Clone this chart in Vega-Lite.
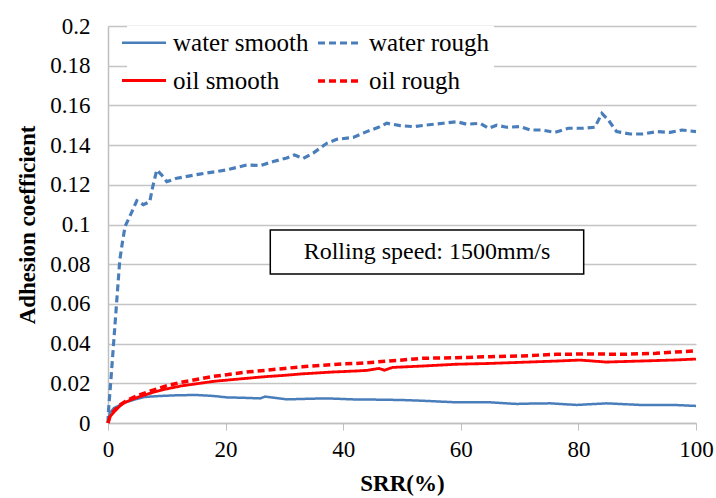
{
  "$schema": "https://vega.github.io/schema/vega-lite/v6.json",
  "width": 588,
  "height": 397,
  "autosize": {"type": "none"},
  "padding": {"left": 108, "top": 26, "right": 20, "bottom": 75},
  "background": "white",
  "config": {
    "font": "Liberation Serif",
    "view": {"stroke": null},
    "text": {"font": "Liberation Serif"},
    "axis": {"labelColor": "black", "titleColor": "black", "labelFont": "Liberation Serif", "titleFont": "Liberation Serif"},
    "legend": {
      "orient": "none", "legendX": 19, "legendY": 0, "columns": 2,
      "symbolType": "M-2,0H2", "symbolSize": 484, "symbolStrokeWidth": 2.5,
      "labelFontSize": 25, "labelFont": "Liberation Serif", "labelColor": "black", "labelOffset": 16,
      "columnPadding": 2, "rowPadding": 12, "padding": 4, "fillColor": "white", "labelLimit": 0
    }
  },
  "datasets": {
    "curves": [
      {"series": "water rough", "srr": 0, "mu": 0},
      {"series": "water rough", "srr": 0.05, "mu": 0.005},
      {"series": "water rough", "srr": 0.5, "mu": 0.022},
      {"series": "water rough", "srr": 0.9, "mu": 0.038},
      {"series": "water rough", "srr": 1.5, "mu": 0.062},
      {"series": "water rough", "srr": 2.0, "mu": 0.082},
      {"series": "water rough", "srr": 2.5, "mu": 0.092},
      {"series": "water rough", "srr": 2.9, "mu": 0.099},
      {"series": "water rough", "srr": 4.0, "mu": 0.106},
      {"series": "water rough", "srr": 4.9, "mu": 0.112},
      {"series": "water rough", "srr": 6.0, "mu": 0.110},
      {"series": "water rough", "srr": 7.1, "mu": 0.1115},
      {"series": "water rough", "srr": 7.6, "mu": 0.119},
      {"series": "water rough", "srr": 8.3, "mu": 0.1275},
      {"series": "water rough", "srr": 9.1, "mu": 0.125},
      {"series": "water rough", "srr": 10.0, "mu": 0.1216},
      {"series": "water rough", "srr": 11.7, "mu": 0.1233},
      {"series": "water rough", "srr": 15.6, "mu": 0.1254},
      {"series": "water rough", "srr": 20.2, "mu": 0.1275},
      {"series": "water rough", "srr": 23.6, "mu": 0.130},
      {"series": "water rough", "srr": 25.9, "mu": 0.1297},
      {"series": "water rough", "srr": 28.1, "mu": 0.1317},
      {"series": "water rough", "srr": 30.4, "mu": 0.1335},
      {"series": "water rough", "srr": 31.7, "mu": 0.135},
      {"series": "water rough", "srr": 33.2, "mu": 0.1333},
      {"series": "water rough", "srr": 34.9, "mu": 0.136},
      {"series": "water rough", "srr": 37.2, "mu": 0.1409},
      {"series": "water rough", "srr": 38.9, "mu": 0.1429},
      {"series": "water rough", "srr": 41.7, "mu": 0.1439},
      {"series": "water rough", "srr": 44.0, "mu": 0.1468},
      {"series": "water rough", "srr": 46.0, "mu": 0.149},
      {"series": "water rough", "srr": 47.4, "mu": 0.151},
      {"series": "water rough", "srr": 49.7, "mu": 0.1498},
      {"series": "water rough", "srr": 51.9, "mu": 0.1493},
      {"series": "water rough", "srr": 54.2, "mu": 0.1501},
      {"series": "water rough", "srr": 57.0, "mu": 0.151},
      {"series": "water rough", "srr": 59.3, "mu": 0.1518},
      {"series": "water rough", "srr": 61.0, "mu": 0.1505},
      {"series": "water rough", "srr": 63.3, "mu": 0.151},
      {"series": "water rough", "srr": 64.7, "mu": 0.1485},
      {"series": "water rough", "srr": 66.1, "mu": 0.150},
      {"series": "water rough", "srr": 67.8, "mu": 0.149},
      {"series": "water rough", "srr": 70.1, "mu": 0.1493},
      {"series": "water rough", "srr": 71.8, "mu": 0.1476},
      {"series": "water rough", "srr": 73.8, "mu": 0.1476},
      {"series": "water rough", "srr": 76.0, "mu": 0.1464},
      {"series": "water rough", "srr": 78.3, "mu": 0.1485},
      {"series": "water rough", "srr": 80.8, "mu": 0.1485},
      {"series": "water rough", "srr": 82.8, "mu": 0.149},
      {"series": "water rough", "srr": 84.0, "mu": 0.156},
      {"series": "water rough", "srr": 85.1, "mu": 0.1526},
      {"series": "water rough", "srr": 86.5, "mu": 0.1468},
      {"series": "water rough", "srr": 88.8, "mu": 0.1456},
      {"series": "water rough", "srr": 91.0, "mu": 0.1456},
      {"series": "water rough", "srr": 93.3, "mu": 0.1468},
      {"series": "water rough", "srr": 95.6, "mu": 0.1464},
      {"series": "water rough", "srr": 97.6, "mu": 0.1476},
      {"series": "water rough", "srr": 100, "mu": 0.1468},

      {"series": "water smooth", "srr": 0, "mu": 0},
      {"series": "water smooth", "srr": 0.3, "mu": 0.005},
      {"series": "water smooth", "srr": 1, "mu": 0.0075},
      {"series": "water smooth", "srr": 2, "mu": 0.009},
      {"series": "water smooth", "srr": 3, "mu": 0.0105},
      {"series": "water smooth", "srr": 4.3, "mu": 0.0116},
      {"series": "water smooth", "srr": 6, "mu": 0.013},
      {"series": "water smooth", "srr": 7.1, "mu": 0.0133},
      {"series": "water smooth", "srr": 8.8, "mu": 0.0136},
      {"series": "water smooth", "srr": 12, "mu": 0.014},
      {"series": "water smooth", "srr": 15.1, "mu": 0.0141},
      {"series": "water smooth", "srr": 18, "mu": 0.0136},
      {"series": "water smooth", "srr": 20.2, "mu": 0.0129},
      {"series": "water smooth", "srr": 23, "mu": 0.0127},
      {"series": "water smooth", "srr": 25.9, "mu": 0.0124},
      {"series": "water smooth", "srr": 26.7, "mu": 0.0133},
      {"series": "water smooth", "srr": 28, "mu": 0.0128},
      {"series": "water smooth", "srr": 30.4, "mu": 0.0119},
      {"series": "water smooth", "srr": 34, "mu": 0.0122},
      {"series": "water smooth", "srr": 37.2, "mu": 0.0124},
      {"series": "water smooth", "srr": 41.7, "mu": 0.0119},
      {"series": "water smooth", "srr": 45, "mu": 0.0118},
      {"series": "water smooth", "srr": 49.7, "mu": 0.0116},
      {"series": "water smooth", "srr": 53.6, "mu": 0.0112},
      {"series": "water smooth", "srr": 59.3, "mu": 0.0104},
      {"series": "water smooth", "srr": 65, "mu": 0.0104},
      {"series": "water smooth", "srr": 69.5, "mu": 0.0096},
      {"series": "water smooth", "srr": 72, "mu": 0.0098},
      {"series": "water smooth", "srr": 75.2, "mu": 0.0099},
      {"series": "water smooth", "srr": 79.7, "mu": 0.0091},
      {"series": "water smooth", "srr": 84.8, "mu": 0.0099},
      {"series": "water smooth", "srr": 90.5, "mu": 0.0091},
      {"series": "water smooth", "srr": 96.2, "mu": 0.0091},
      {"series": "water smooth", "srr": 100, "mu": 0.0086},

      {"series": "oil rough", "srr": 0, "mu": 0},
      {"series": "oil rough", "srr": 0.3, "mu": 0.003},
      {"series": "oil rough", "srr": 1, "mu": 0.006},
      {"series": "oil rough", "srr": 2, "mu": 0.009},
      {"series": "oil rough", "srr": 3, "mu": 0.011},
      {"series": "oil rough", "srr": 5, "mu": 0.0138},
      {"series": "oil rough", "srr": 7.1, "mu": 0.016},
      {"series": "oil rough", "srr": 10, "mu": 0.0188},
      {"series": "oil rough", "srr": 12.5, "mu": 0.0205},
      {"series": "oil rough", "srr": 15.6, "mu": 0.0222},
      {"series": "oil rough", "srr": 18, "mu": 0.0235},
      {"series": "oil rough", "srr": 21.3, "mu": 0.0248},
      {"series": "oil rough", "srr": 24, "mu": 0.0258},
      {"series": "oil rough", "srr": 27, "mu": 0.0266},
      {"series": "oil rough", "srr": 30, "mu": 0.0275},
      {"series": "oil rough", "srr": 33, "mu": 0.0283},
      {"series": "oil rough", "srr": 36, "mu": 0.029},
      {"series": "oil rough", "srr": 40, "mu": 0.0298},
      {"series": "oil rough", "srr": 42.2, "mu": 0.030},
      {"series": "oil rough", "srr": 47.8, "mu": 0.0312},
      {"series": "oil rough", "srr": 53.5, "mu": 0.0326},
      {"series": "oil rough", "srr": 59.2, "mu": 0.0329},
      {"series": "oil rough", "srr": 64.9, "mu": 0.0334},
      {"series": "oil rough", "srr": 70.5, "mu": 0.0338},
      {"series": "oil rough", "srr": 76.2, "mu": 0.0346},
      {"series": "oil rough", "srr": 81.8, "mu": 0.0348},
      {"series": "oil rough", "srr": 87.5, "mu": 0.0346},
      {"series": "oil rough", "srr": 93.2, "mu": 0.0351},
      {"series": "oil rough", "srr": 100, "mu": 0.0364},

      {"series": "oil smooth", "srr": 0, "mu": 0},
      {"series": "oil smooth", "srr": 0.3, "mu": 0.003},
      {"series": "oil smooth", "srr": 1, "mu": 0.0055},
      {"series": "oil smooth", "srr": 2, "mu": 0.0085},
      {"series": "oil smooth", "srr": 2.6, "mu": 0.0099},
      {"series": "oil smooth", "srr": 4, "mu": 0.0118},
      {"series": "oil smooth", "srr": 5.4, "mu": 0.0133},
      {"series": "oil smooth", "srr": 7.5, "mu": 0.0153},
      {"series": "oil smooth", "srr": 10, "mu": 0.0172},
      {"series": "oil smooth", "srr": 12.5, "mu": 0.0187},
      {"series": "oil smooth", "srr": 15.6, "mu": 0.0200},
      {"series": "oil smooth", "srr": 18, "mu": 0.021},
      {"series": "oil smooth", "srr": 21.3, "mu": 0.0219},
      {"series": "oil smooth", "srr": 24.3, "mu": 0.0227},
      {"series": "oil smooth", "srr": 27, "mu": 0.0234},
      {"series": "oil smooth", "srr": 30, "mu": 0.024},
      {"series": "oil smooth", "srr": 32.7, "mu": 0.0247},
      {"series": "oil smooth", "srr": 35.5, "mu": 0.0252},
      {"series": "oil smooth", "srr": 38.3, "mu": 0.0257},
      {"series": "oil smooth", "srr": 42.2, "mu": 0.0262},
      {"series": "oil smooth", "srr": 44, "mu": 0.0265},
      {"series": "oil smooth", "srr": 46.1, "mu": 0.0275},
      {"series": "oil smooth", "srr": 47, "mu": 0.0266},
      {"series": "oil smooth", "srr": 48.4, "mu": 0.028},
      {"series": "oil smooth", "srr": 53.5, "mu": 0.0287},
      {"series": "oil smooth", "srr": 59.2, "mu": 0.0296},
      {"series": "oil smooth", "srr": 64.9, "mu": 0.030},
      {"series": "oil smooth", "srr": 70.5, "mu": 0.0306},
      {"series": "oil smooth", "srr": 76.2, "mu": 0.0312},
      {"series": "oil smooth", "srr": 80.2, "mu": 0.0317},
      {"series": "oil smooth", "srr": 82.5, "mu": 0.0312},
      {"series": "oil smooth", "srr": 84.7, "mu": 0.0307},
      {"series": "oil smooth", "srr": 90.4, "mu": 0.0312},
      {"series": "oil smooth", "srr": 96, "mu": 0.0317},
      {"series": "oil smooth", "srr": 100, "mu": 0.0322}
    ],
    "note": [
      {"label": "Rolling speed: 1500mm/s", "left": 27.6, "right": 80.9, "bottom": 0.0751, "top": 0.0972, "cx": 54.25, "cy": 0.0861}
    ]
  },
  "layer": [
    {
      "data": {"name": "curves"},
      "mark": {"type": "line", "interpolate": "linear"},
      "encoding": {
        "x": {
          "field": "srr", "type": "quantitative",
          "scale": {"domain": [0, 100], "nice": false},
          "axis": {
            "title": "SRR(%)", "values": [0, 20, 40, 60, 80, 100], "tickCount": 20, "grid": false,
            "tickSize": 7, "tickColor": "#bfbfbf", "domainColor": "#bfbfbf", "domainWidth": 1.5,
            "labelFont": "Liberation Serif", "titleFont": "Liberation Serif",
            "labelFontSize": 23, "labelPadding": 8, "labelFlush": false, "labelOverlap": false,
            "titleFontSize": 23, "titleFontWeight": "bold", "titlePadding": 11
          }
        },
        "y": {
          "field": "mu", "type": "quantitative",
          "scale": {"domain": [0, 0.2], "nice": false},
          "axis": {
            "title": "Adhesion coefficient",
            "values": [0, 0.02, 0.04, 0.06, 0.08, 0.1, 0.12, 0.14, 0.16, 0.18, 0.2], "tickCount": 20,
            "format": "~g", "ticks": false, "grid": true, "gridColor": "#c4c4c4", "gridWidth": 1.5,
            "domainColor": "#bfbfbf", "domainWidth": 1.5,
            "labelFont": "Liberation Serif", "titleFont": "Liberation Serif",
            "labelFontSize": 23, "labelPadding": 18, "labelFlush": false, "labelOverlap": false,
            "titleFontSize": 23, "titleFontWeight": "bold", "titlePadding": 10
          }
        },
        "color": {
          "field": "series", "type": "nominal",
          "scale": {"domain": ["water smooth", "oil smooth", "water rough", "oil rough"], "range": ["#4a7ebb", "#ff0000", "#4a7ebb", "#ff0000"]},
          "legend": {"title": null}
        },
        "strokeDash": {
          "field": "series", "type": "nominal",
          "scale": {"domain": ["water smooth", "oil smooth", "water rough", "oil rough"], "range": [[1, 0], [1, 0], [7, 4], [7, 4]]},
          "legend": {"title": null}
        },
        "strokeWidth": {
          "field": "series", "type": "nominal",
          "scale": {"domain": ["water smooth", "oil smooth", "water rough", "oil rough"], "range": [2.5, 3.5, 3, 3.5]},
          "legend": {"title": null}
        },
        "order": {"field": "srr", "type": "quantitative"}
      }
    },
    {
      "data": {"name": "note"},
      "mark": {"type": "rect", "fill": "white", "stroke": "black", "strokeWidth": 1.5},
      "encoding": {
        "x": {"field": "left", "type": "quantitative"},
        "x2": {"field": "right"},
        "y": {"field": "bottom", "type": "quantitative"},
        "y2": {"field": "top"}
      }
    },
    {
      "data": {"name": "note"},
      "mark": {"type": "text", "fontSize": 24, "font": "Liberation Serif", "fontWeight": "normal", "color": "black", "align": "center", "baseline": "middle"},
      "encoding": {
        "x": {"field": "cx", "type": "quantitative"},
        "y": {"field": "cy", "type": "quantitative"},
        "text": {"field": "label"}
      }
    }
  ]
}
